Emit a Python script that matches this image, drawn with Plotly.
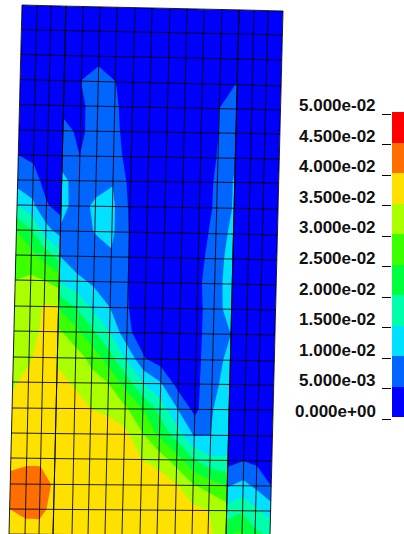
import numpy as np
import plotly.graph_objects as go

W, H = 404, 534

tick_values = [0.0, 0.005, 0.01, 0.015, 0.02, 0.025, 0.03, 0.035, 0.04, 0.045, 0.05]
tick_labels = ["0.000e+00", "5.000e-03", "1.000e-02", "1.500e-02", "2.000e-02", "2.500e-02",
               "3.000e-02", "3.500e-02", "4.000e-02", "4.500e-02", "5.000e-02"]
band_colors = ["#0000ff", "#0066ff", "#00e1ff", "#00ffaa", "#00ff3c",
               "#3cff00", "#aaff00", "#ffe100", "#ff6e00", "#ff0000"]

# Mesh node positions on the picture's edges
top_x = [22, 37, 51, 66, 83, 100, 117, 135, 152, 170, 187, 204, 222, 239, 254, 268, 283]
bottom_x = [9, 25, 39, 53, 72, 88, 105, 122, 140, 157, 175, 192, 208, 226, 242, 255, 270]
left_y = [5, 29.5, 54.5, 79.5, 104.5, 130, 155, 180, 205, 230, 255, 280, 306, 331, 357, 382, 408, 433, 458, 484, 509, 534]
right_y = [11, 35, 60, 86, 110, 134, 159, 183, 209, 235, 260, 285, 310, 335, 361, 385, 410, 436, 461, 486, 511, 536]
split_columns = [3, 13]  # nodes carrying two values (a jump across the element edge)

# Nodal field in units of 0.005; columns 0,1,2,3L,3R,4..13L,13R,14,15,16
f00 = [.2, .2, .2, .2, .2, .2, .2, .2, .2, .2, .2, .2, .2, .2, .2, .2, .2, .2, .2]
f01 = [.2, .2, .2, .2, .2, .2, .3, .2, .2, .2, .2, .2, .2, .2, .2, .2, .2, .2, .2]
f02 = [.2, .2, .2, .2, .2, .3, .6, .4, .2, .2, .2, .2, .2, .3, .5, .2, .2, .2, .2]
f03 = [.2, .2, .2, .3, .4, 1.02, 1.6, 1.02, .4, .2, .2, .2, .3, .6, 1.05, .2, .2, .2, .2]
f04 = [.2, .2, .3, .4, .7, .85, 1.4, 1.15, .5, .2, .2, .2, .4, 1.0, 1.4, .2, .2, .2, .2]
f05 = [.3, .3, .3, .4, 1.3, .8, 1.5, 1.3, .4, .2, .2, .2, .5, 1.0, 1.6, .2, .2, .2, .2]
f06 = [1.0, .8, .4, .4, 1.5, 1.0, 1.5, 1.4, .6, .2, .2, .3, .5, 1.05, 1.9, .2, .2, .2, .2]
f07 = [1.5, 1.4, .6, .5, 2.3, 1.5, 1.6, 1.95, .7, .2, .2, .3, .5, 1.15, 2.1, .2, .2, .2, .2]
f08 = [3.0, 2.2, 1.1, .6, 2.3, 1.6, 2.2, 2.2, .85, .2, .2, .3, .4, 1.2, 2.1, .2, .2, .2, .2]
f09 = [5.0, 4.0, 2.4, 1.6, 1.9, 1.5, 2.05, 2.2, .95, .3, .2, .3, .5, 1.4, 2.3, .2, .2, .2, .2]
f10 = [5.7, 5.3, 4.6, 3.5, 2.0, 1.3, 1.5, 1.9, 1.0, .4, .2, .3, .7, 1.5, 2.5, .2, .2, .2, .2]
f11 = [6.0, 6.2, 6.0, 5.6, 2.9, 2.3, 1.8, 1.4, 1.0, .3, .2, .3, .8, 1.6, 2.5, .2, .2, .2, .2]
f12 = [6.2, 6.5, 7.1, 7.0, 4.9, 3.9, 2.8, 2.0, 1.05, .3, .2, .3, .7, 1.6, 2.4, .2, .2, .2, .2]
f13 = [6.4, 6.6, 7.2, 7.3, 6.2, 5.3, 4.2, 3.0, 1.3, .3, .2, .3, .7, 1.6, 2.0, .2, .2, .2, .2]
f14 = [6.6, 6.9, 7.3, 7.3, 6.8, 6.5, 5.7, 4.5, 2.9, 1.1, .5, .3, .7, 1.7, 2.2, .2, .2, .2, .2]
f15 = [6.9, 7.2, 7.4, 7.4, 7.3, 6.9, 6.4, 6.0, 4.6, 3.0, 2.1, .6, .7, 1.8, 2.3, .3, .2, .2, .2]
f16 = [7.2, 7.5, 7.5, 7.5, 7.4, 7.3, 7.0, 6.8, 6.2, 5.0, 3.6, 2.0, .7, 1.95, 2.4, .3, .2, .2, .2]
f17 = [7.4, 7.6, 7.6, 7.6, 7.5, 7.5, 7.5, 7.5, 7.3, 6.1, 4.8, 3.5, 1.9, 2.0, 2.6, .4, .3, .2, .2]
f18 = [7.5, 7.7, 7.7, 7.6, 7.6, 7.6, 7.6, 7.6, 7.6, 7.0, 6.6, 5.5, 4.1, 3.2, 3.1, .7, .98, .8, .3]
f19 = [8.5, 8.7, 8.7, 7.8, 7.8, 7.6, 7.6, 7.6, 7.6, 7.6, 7.6, 7.1, 6.1, 5.6, 5.0, 1.9, 2.3, 1.8, 1.0]
f20 = [8.0, 8.5, 8.4, 7.6, 7.6, 7.5, 7.5, 7.5, 7.5, 7.5, 7.5, 7.5, 7.3, 7.0, 6.5, 3.4, 3.9, 3.2, 2.6]
f21 = [7.4, 7.2, 7.4, 7.4, 7.4, 7.5, 7.5, 7.5, 7.5, 7.5, 7.5, 7.5, 7.5, 7.3, 6.2, 5.0, 5.3, 4.3, 3.9]
field = [f00, f01, f02, f03, f04, f05, f06, f07, f08, f09, f10, f11,
         f12, f13, f14, f15, f16, f17, f18, f19, f20, f21]

# Node coordinates of the skewed mesh
nrow, ncol = len(left_y), len(top_x)
ty = np.linspace(0, 1, nrow)[:, None]
tx = np.linspace(0, 1, ncol)[None, :]
xn = (1 - ty) * np.array(top_x)[None, :] + ty * np.array(bottom_x)[None, :]
yn = (1 - tx) * np.array(left_y)[:, None] + tx * np.array(right_y)[:, None]
for c in sorted(split_columns, reverse=True):
    xn = np.insert(xn, c + 1, xn[:, c] + 0.05, axis=1)
    yn = np.insert(yn, c + 1, yn[:, c], axis=1)

a_idx = list(range(xn.shape[1]))
b_idx = list(range(nrow))

# Discrete colour scale, one flat step per band
steps = []
n = len(band_colors)
for k, col in enumerate(band_colors):
    steps += [[k / n, col], [(k + 1) / n, col]]

fig = go.Figure()
grid = dict(showgrid=True, gridcolor="rgba(0,0,0,0.85)", gridwidth=1, minorgridcount=0,
            showticklabels="none", showticksuffix="none", showtickprefix="none",
            startline=False, endline=False, smoothing=0, cheatertype="index", arraydtick=1)
fig.add_trace(go.Carpet(a=a_idx, b=b_idx, x=xn, y=yn, carpet="mesh", aaxis=grid, baxis=grid))
fig.add_trace(go.Contourcarpet(a=a_idx, b=b_idx, z=np.array(field), carpet="mesh",
                               autocontour=False, zmin=0, zmax=10,
                               contours=dict(start=1, end=9, size=1, coloring="fill", showlines=False),
                               line=dict(width=0, smoothing=0), colorscale=steps, showscale=False))

# Colour legend
px_per_unit = 305 / 0.05
offset = 2 / px_per_unit
edges = [v + offset for v in tick_values]
fig.add_trace(go.Heatmap(x=[0, 1], y=edges, z=[[v + 0.5] for v in range(10)], zmin=0, zmax=10,
                         colorscale=steps, showscale=False, xaxis="x2", yaxis="y2", xgap=0, ygap=0))

fig.update_layout(
    width=W, height=H, autosize=False, margin=dict(l=0, r=0, t=0, b=0),
    paper_bgcolor="white", plot_bgcolor="white", showlegend=False,
    xaxis=dict(domain=[0, 1], range=[0, W], visible=False),
    yaxis=dict(domain=[0, 1], range=[H, 0], visible=False),
    xaxis2=dict(domain=[392 / W, 1], range=[0, 1], visible=False, anchor="y2"),
    yaxis2=dict(domain=[(H - 421) / H, (H - 110) / H], anchor="x2",
                range=[-2 / px_per_unit, 0.05 + 4 / px_per_unit],
                tickmode="array", tickvals=tick_values, ticktext=[""] * 11,
                ticks="outside", ticklen=9, tickwidth=1, tickcolor="black",
                showgrid=False, zeroline=False, showline=False),
    annotations=[dict(text=t, xref="paper", x=378 / W, xanchor="right", yref="y2", y=v, yshift=8,
                      yanchor="middle", showarrow=False,
                      font=dict(family="Liberation Sans", size=17, color="#111111", weight="bold"))
                 for t, v in zip(tick_labels, tick_values)],
)
fig.write_html("out.html", config=dict(displayModeBar=False),
               post_script="document.body.style.margin='0';document.body.style.overflow='hidden';")
